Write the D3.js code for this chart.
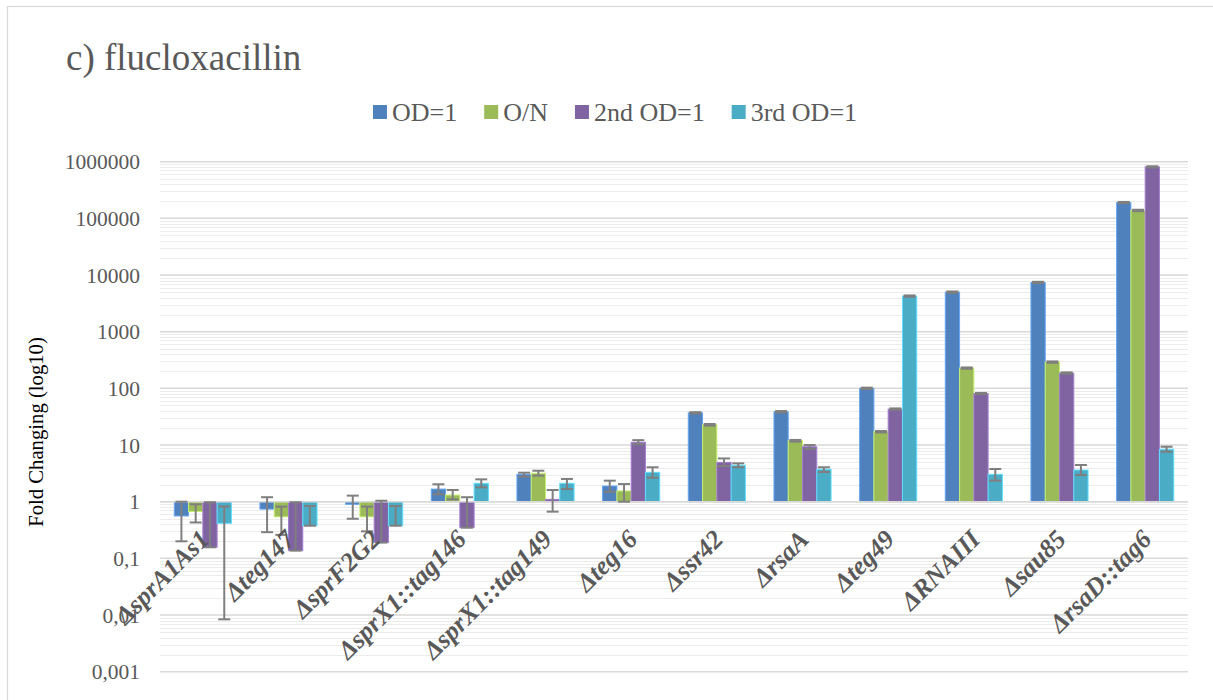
<!DOCTYPE html>
<html>
<head>
<meta charset="utf-8">
<script src="https://cdn.jsdelivr.net/npm/d3@7"></script>
<style>
  html, body { margin: 0; padding: 0; background: #fff; }
  svg { display: block; }
  .serif { font-family: "Liberation Serif", "Times New Roman", Tinos, "DejaVu Serif", serif; }
</style>
</head>
<body>
<svg id="chart" width="1213" height="700"></svg>
<script>
// ---------- data ----------
const categories = ["ΔsprA1As1","Δteg147","ΔsprF2G2","ΔsprX1::tag146","ΔsprX1::tag149","Δteg16","Δssr42","ΔrsaA","Δteg49","ΔRNAIII","Δsau85","ΔrsaD::tag6"];
const seriesNames = ["OD=1","O/N","2nd OD=1","3rd OD=1"];
const seriesColors = ["#4F81BD","#9BBB59","#8064A2","#4BACC6"];

const od1  = [0.56, 0.74, 0.90, 1.67, 3.04, 1.89, 37, 38.7, 100, 4990, 7400, 190000];
const on   = [0.67, 0.54, 0.54, 1.31, 3.17, 1.55, 22.8, 11.9, 17.2, 228, 291, 138000];
const od2  = [0.157, 0.137, 0.19, 0.348, 1.1, 11.2, 4.95, 9.33, 43, 81, 186, 810000];
const od3  = [0.416, 0.377, 0.377, 2.11, 2.11, 3.3, 4.39, 3.73, 4250, 3.04, 3.62, 8.4];

// error bar ends (low / high)
const od1Low  = [0.2, 0.29, 0.5, 1.35, 2.76, 1.5, 36, 37.5, 97, 4850, 7200, 185000];
const od1High = [1.0, 1.2, 1.28, 2.03, 3.25, 2.35, 38, 39.8, 103, 5130, 7600, 195000];
const onLow   = [0.43, 0.26, 0.3, 1.10, 2.88, 1.0, 22, 11.5, 16.7, 222, 283, 134000];
const onHigh  = [0.9, 0.82, 0.82, 1.61, 3.52, 2.05, 23.5, 12.3, 17.7, 234, 299, 142000];
const od2Low  = [0.157, 0.137, 0.19, 0.348, 0.667, 10.3, 4.26, 8.5, 42, 79, 181, 790000];
const od2High = [0.98, 0.98, 1.04, 1.2, 1.61, 12.2, 5.8, 10, 44.3, 83, 191, 830000];
const od3Low  = [0.0084, 0.377, 0.377, 1.79, 1.67, 2.65, 4.05, 3.34, 4130, 2.35, 2.95, 7.6];
const od3High = [0.824, 0.84, 0.84, 2.48, 2.52, 4.05, 4.75, 4.05, 4370, 3.78, 4.44, 9.33];

const yTicks = [0.001, 0.01, 0.1, 1, 10, 100, 1000, 10000, 100000, 1000000];
const yTickLabels = ["0,001","0,01","0,1","1","10","100","1000","10000","100000","1000000"];

const titleText = "c) flucloxacillin";
const yTitle = "Fold Changing (log10)";

// ---------- build ----------
const values = [od1, on, od2, od3];
const lows = [od1Low, onLow, od2Low, od3Low];
const highs = [od1High, onHigh, od2High, od3High];

const svg = d3.select("#chart");
const textGray = "#595959";

// chart border
svg.append("rect").attr("x", 7.5).attr("y", 6.5).attr("width", 1230).attr("height", 720)
  .attr("fill", "none").attr("stroke", "#d9d9d9").attr("stroke-width", 1.2);

const plot = {left: 160, right: 1188, top: 161.7, bottom: 671.7};

const y = d3.scaleLog().domain([0.001, 1e6]).range([plot.bottom, plot.top]);
const x0 = d3.scaleBand().domain(categories).range([plot.left, plot.right])
  .paddingInner(1/3).paddingOuter(1/6);
const x1 = d3.scaleBand().domain(seriesNames).range([0, x0.bandwidth()]);

// minor gridlines
const minor = [];
for (let e = -3; e < 6; e++) for (let m = 2; m <= 9; m++) minor.push(m * Math.pow(10, e));
svg.append("g").selectAll("line").data(minor).join("line")
  .attr("x1", plot.left).attr("x2", plot.right)
  .attr("y1", d => Math.round(y(d)) + 0.5).attr("y2", d => Math.round(y(d)) + 0.5)
  .attr("stroke", "#ececec").attr("stroke-width", 1);

// major gridlines
svg.append("g").selectAll("line").data(yTicks).join("line")
  .attr("x1", plot.left).attr("x2", plot.right)
  .attr("y1", d => y(d)).attr("y2", d => y(d))
  .attr("stroke", "#d9d9d9").attr("stroke-width", 1.5);

// y tick labels
svg.append("g").selectAll("text").data(yTicks).join("text")
  .attr("class", "serif")
  .attr("x", 140).attr("y", d => y(d)).attr("dy", "0.35em")
  .attr("text-anchor", "end")
  .attr("font-size", 21.5).attr("fill", textGray)
  .text((d, i) => yTickLabels[i]);

// y title
svg.append("text").attr("class", "serif")
  .attr("transform", `translate(43,432) rotate(-90)`)
  .attr("text-anchor", "middle")
  .attr("font-size", 20.7).attr("fill", "#000")
  .text(yTitle);

// title
svg.append("text").attr("class", "serif").attr("x", 66).attr("y", 70)
  .attr("font-size", 37).attr("fill", textGray)
  .text(titleText);

// bars
const y1 = y(1);
const barsG = svg.append("g");
seriesNames.forEach((s, si) => {
  const col = seriesColors[si];
  barsG.append("g").selectAll("rect").data(categories).join("rect")
    .attr("x", c => x0(c) + x1(s))
    .attr("width", x1.bandwidth())
    .attr("y", (c, i) => Math.min(y(values[si][i]), y1))
    .attr("height", (c, i) => Math.abs(y(values[si][i]) - y1))
    .attr("fill", col)
    .attr("stroke", d3.color(col).brighter(0.7))
    .attr("stroke-width", 1);
});

// x axis line at 1
svg.append("line").attr("x1", plot.left).attr("x2", plot.right)
  .attr("y1", y1).attr("y2", y1).attr("stroke", "#d9d9d9").attr("stroke-width", 1.5);

// error bars
const errG = svg.append("g").attr("stroke", "#7f7f7f").attr("stroke-width", 2).attr("fill", "none");
seriesNames.forEach((s, si) => {
  categories.forEach((c, i) => {
    const cx = x0(c) + x1(s) + x1.bandwidth() / 2;
    const yl = y(lows[si][i]), yh = y(highs[si][i]);
    const cw = 6;
    errG.append("line").attr("x1", cx).attr("x2", cx).attr("y1", yl).attr("y2", yh);
    errG.append("line").attr("x1", cx - cw).attr("x2", cx + cw).attr("y1", yl).attr("y2", yl);
    errG.append("line").attr("x1", cx - cw).attr("x2", cx + cw).attr("y1", yh).attr("y2", yh);
  });
});

// category labels
svg.append("g").selectAll("text").data(categories).join("text")
  .attr("class", "serif")
  .attr("transform", c => `translate(${x0(c) + x0.bandwidth() / 2 - 5},528) rotate(-45)`)
  .attr("text-anchor", "end").attr("dy", "0.7em")
  .attr("font-size", 26)
  .attr("font-weight", "bold").attr("font-style", "italic")
  .attr("fill", textGray)
  .text(c => c);

// legend
const legend = svg.append("g");
const items = [];
seriesNames.forEach((s, si) => {
  const g = legend.append("g");
  g.append("rect").attr("x", 0).attr("y", 105).attr("width", 14).attr("height", 14).attr("fill", seriesColors[si]);
  const t = g.append("text").attr("class", "serif").attr("x", 19).attr("y", 112).attr("dy", "0.35em")
    .attr("font-size", 26).attr("fill", textGray).text(s);
  items.push({g, w: 19 + t.node().getComputedTextLength()});
});
const gap = 27;
const total = d3.sum(items, d => d.w) + gap * (items.length - 1);
let lx = 615 - total / 2;
items.forEach(it => { it.g.attr("transform", `translate(${lx},0)`); lx += it.w + gap; });
</script>
</body>
</html>
